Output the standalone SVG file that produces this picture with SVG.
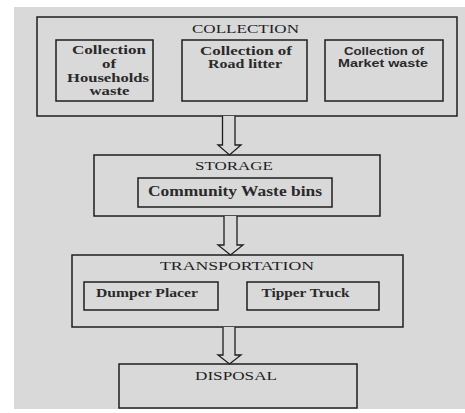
<svg xmlns="http://www.w3.org/2000/svg" width="465" height="413" viewBox="0 0 465 413">
<defs>
<style>
.box{fill:none;stroke:#1e1e1e;stroke-width:1.5}
.arrow{fill:#d9d9d9;stroke:#1e1e1e;stroke-width:1.3;stroke-linejoin:miter}
.h{font-family:"Liberation Serif","Times New Roman",serif;font-size:13px;fill:#1e1e1e}
.b{font-family:"Liberation Serif","Times New Roman",serif;font-size:12.5px;font-weight:bold;fill:#2a2a2a}
.s{font-family:"Liberation Sans",Arial,sans-serif;font-size:10.5px;font-weight:bold;fill:#2a2a2a}
</style>
</defs>
<rect x="0" y="0" width="465" height="413" fill="#ffffff"/>
<rect x="14" y="7" width="451" height="402" fill="#d9d9d9"/>

<g id="collection">
<rect class="box" x="37" y="17" width="420" height="99"/>
<text class="h" x="192" y="33" textLength="107" lengthAdjust="spacingAndGlyphs">COLLECTION</text>
</g>
<g id="households">
<rect class="box" x="56" y="40" width="97" height="61"/>
<text class="b" x="72" y="54" textLength="74" lengthAdjust="spacingAndGlyphs">Collection</text>
<text class="b" x="102" y="68" textLength="14" lengthAdjust="spacingAndGlyphs">of</text>
<text class="b" x="67" y="81.5" textLength="82" lengthAdjust="spacingAndGlyphs">Households</text>
<text class="b" x="89.5" y="95" textLength="40" lengthAdjust="spacingAndGlyphs">waste</text>
</g>
<g id="road-litter">
<rect class="box" x="182" y="40" width="125" height="61"/>
<text class="b" x="200" y="54.5" textLength="92" lengthAdjust="spacingAndGlyphs">Collection of</text>
<text class="b" x="208" y="68" textLength="74" lengthAdjust="spacingAndGlyphs">Road litter</text>
</g>
<g id="market-waste">
<rect class="box" x="325" y="40" width="118" height="61"/>
<text class="s" x="344" y="55" textLength="80" lengthAdjust="spacingAndGlyphs">Collection of</text>
<text class="s" x="338" y="67" textLength="90" lengthAdjust="spacingAndGlyphs">Market waste</text>
</g>

<g id="storage">
<rect class="box" x="94" y="155" width="286" height="61"/>
<text class="h" x="195" y="170" textLength="78" lengthAdjust="spacingAndGlyphs">STORAGE</text>
</g>
<g id="community-bins">
<rect class="box" x="138" y="178" width="194" height="29"/>
<text class="b" style="font-size:15.5px" x="148" y="196" textLength="174" lengthAdjust="spacingAndGlyphs">Community Waste bins</text>
</g>

<g id="transportation">
<rect class="box" x="72" y="255" width="331" height="72"/>
<text class="h" x="160" y="270" textLength="154" lengthAdjust="spacingAndGlyphs">TRANSPORTATION</text>
</g>
<g id="dumper-placer">
<rect class="box" x="84" y="282" width="134" height="28"/>
<text class="b" style="font-size:13px" x="96" y="297" textLength="102" lengthAdjust="spacingAndGlyphs">Dumper Placer</text>
</g>
<g id="tipper-truck">
<rect class="box" x="247" y="282" width="132" height="28"/>
<text class="b" style="font-size:13px" x="261.5" y="297" textLength="88" lengthAdjust="spacingAndGlyphs">Tipper Truck</text>
</g>

<g id="disposal">
<rect class="box" x="119" y="364" width="238" height="44"/>
<text class="h" x="195" y="380" textLength="82" lengthAdjust="spacingAndGlyphs">DISPOSAL</text>
</g>

<g id="connectors">
<path class="arrow" d="M222.5,116 L222.5,145 L218,145 L229.5,155 L241,145 L235,145 L235,116"/>
<path class="arrow" d="M224,216 L224,245 L218,245 L230.5,255 L243,245 L237,245 L237,216"/>
<path class="arrow" d="M223,327 L223,355 L218,355 L229.5,364 L241,355 L235,355 L235,327"/>
</g>
</svg>
